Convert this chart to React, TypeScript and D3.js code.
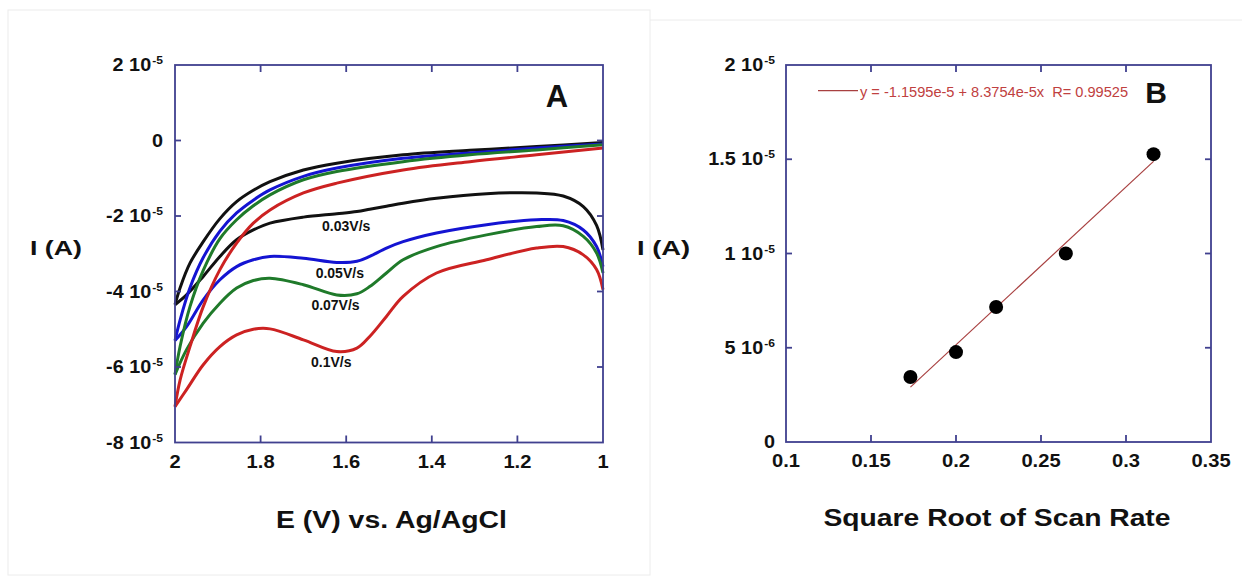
import React from 'react';
import * as d3 from 'd3';

// ---- panel A: cyclic voltammograms, current in units of 1e-5 A ----
const scanRates = ['0.03V/s', '0.05V/s', '0.07V/s', '0.1V/s'];
const curveColors = ['#111111', '#1414d2', '#1f7a2a', '#cc2222'];

// forward branch (1 V -> 2 V)
const upperE = [1.0, 1.155, 1.311, 1.467, 1.622, 1.7, 1.778, 1.817, 1.856, 1.895, 1.934, 1.965, 1.988, 2.0];
const upperBlack = [-0.05, -0.16, -0.26, -0.38, -0.6, -0.78, -1.09, -1.32, -1.62, -2.07, -2.68, -3.25, -3.9, -4.35];
const upperBlue = [-0.09, -0.2, -0.33, -0.47, -0.73, -0.95, -1.31, -1.58, -1.92, -2.4, -3.1, -3.9, -4.75, -5.3];
const upperGreen = [-0.11, -0.25, -0.38, -0.56, -0.82, -1.04, -1.44, -1.73, -2.1, -2.6, -3.44, -4.4, -5.45, -6.2];
const upperRed = [-0.2, -0.38, -0.56, -0.78, -1.13, -1.39, -1.84, -2.19, -2.72, -3.42, -4.4, -5.46, -6.34, -7.05];

// reverse branch (2 V -> 1 V)
const lowerE = [2.0, 1.973, 1.934, 1.895, 1.856, 1.817, 1.778, 1.7, 1.622, 1.575, 1.545, 1.506, 1.467, 1.389, 1.272, 1.155, 1.093, 1.046, 1.015, 1.0];
const lowerBlack = [-4.35, -4.09, -3.6, -3.07, -2.63, -2.37, -2.19, -2.03, -1.94, -1.88, -1.82, -1.74, -1.66, -1.53, -1.41, -1.39, -1.47, -1.75, -2.25, -2.9];
const lowerBlue = [-5.3, -4.93, -4.22, -3.69, -3.34, -3.16, -3.07, -3.12, -3.23, -3.2, -3.07, -2.85, -2.68, -2.45, -2.23, -2.1, -2.12, -2.37, -2.81, -3.34];
const lowerGreen = [-6.2, -5.54, -4.84, -4.31, -3.91, -3.71, -3.65, -3.82, -4.09, -4.06, -3.87, -3.51, -3.16, -2.81, -2.5, -2.28, -2.26, -2.54, -2.98, -3.51];
const lowerRed = [-7.05, -6.6, -5.94, -5.46, -5.15, -5.0, -4.99, -5.28, -5.59, -5.5, -5.19, -4.66, -4.13, -3.51, -3.16, -2.85, -2.81, -3.03, -3.42, -3.95];

const uppers = [upperBlack, upperBlue, upperGreen, upperRed];
const lowers = [lowerBlack, lowerBlue, lowerGreen, lowerRed];

// where each scan-rate label sits (E, I)
const labelE = [1.6, 1.615, 1.625, 1.635];
const labelI = [-2.4, -3.65, -4.5, -6.0];

const aXTicks = [2, 1.8, 1.6, 1.4, 1.2, 1];
const aYTicks = [2, 0, -2, -4, -6, -8];
const aYTickText = [['2 10', '-5'], ['0', ''], ['-2 10', '-5'], ['-4 10', '-5'], ['-6 10', '-5'], ['-8 10', '-5']];

// ---- panel B: peak current vs sqrt(scan rate), current in units of 1e-6 A ----
const sqrtRate = [0.1732, 0.2, 0.2236, 0.2646, 0.3162];
const peakCurrent = [3.45, 4.77, 7.16, 10.0, 15.27];
const fitIntercept = -11.595;
const fitSlope = 83.754;
const fitText = 'y = -1.1595e-5 + 8.3754e-5x  R= 0.99525';

const bXTicks = [0.1, 0.15, 0.2, 0.25, 0.3, 0.35];
const bYTicks = [0, 5, 10, 15, 20];
const bYTickText = [['0', ''], ['5 10', '-6'], ['1 10', '-5'], ['1.5 10', '-5'], ['2 10', '-5']];

const FONT = '"Liberation Sans", Arial, Helvetica, sans-serif';
const FRAME = '#40408f';

function SText({ x, y, sx = 1.12, size, anchor = 'middle', weight = 'bold', fill = '#111', children }: any) {
  return (
    <text
      transform={`translate(${x},${y}) scale(${sx},1)`}
      textAnchor={anchor}
      fontFamily={FONT}
      fontWeight={weight}
      fontSize={size}
      fill={fill}
    >
      {children}
    </text>
  );
}

function TickLabel({ x, y, parts }: any) {
  return (
    <SText x={x} y={y} size={18} anchor="end" sx={1.1}>
      <tspan>{parts[0]}</tspan>
      {parts[1] ? (
        <tspan dx={1} dy={-7} fontSize={11}>
          {parts[1]}
        </tspan>
      ) : null}
    </SText>
  );
}

function Frame({ x, y, xTicks, yTicks }: any) {
  const [x0, x1] = x.range();
  const [y0, y1] = y.range();
  const L = Math.min(x0, x1), R = Math.max(x0, x1);
  const T = Math.min(y0, y1), B = Math.max(y0, y1);
  const tl = 7;
  return (
    <g stroke={FRAME} strokeWidth={1.8} fill="none">
      <rect x={L} y={T} width={R - L} height={B - T} />
      {xTicks.slice(1, -1).map((t: number) => (
        <g key={'x' + t}>
          <line x1={x(t)} x2={x(t)} y1={B} y2={B - tl} />
          <line x1={x(t)} x2={x(t)} y1={T} y2={T + tl} />
        </g>
      ))}
      {yTicks.slice(1, -1).map((t: number) => (
        <g key={'y' + t}>
          <line x1={L} x2={L + 6} y1={y(t)} y2={y(t)} />
          <line x1={R} x2={R - 6} y1={y(t)} y2={y(t)} />
        </g>
      ))}
    </g>
  );
}

export default function App() {
  // panel A scales
  const ax = d3.scaleLinear().domain([2, 1]).range([175, 603]);
  const ay = d3.scaleLinear().domain([-8, 2]).range([442.5, 65]);
  const line = d3
    .line<[number, number]>()
    .x((d) => ax(d[0]))
    .y((d) => ay(d[1]))
    .curve(d3.curveCatmullRom.alpha(0.5));

  // panel B scales
  const bx = d3.scaleLinear().domain([0.1, 0.35]).range([786, 1211]);
  const by = d3.scaleLinear().domain([0, 20]).range([442, 65]);
  const fitX = [sqrtRate[0], sqrtRate[sqrtRate.length - 1]];

  return (
    <svg width={1242} height={577} style={{ position: 'absolute', left: 0, top: 0, background: '#fff' }}>
      {/* faint page edges from the source figure */}
      <rect x={8} y={10} width={642} height={565} fill="none" stroke="#ececec" strokeWidth={1} />
      <line x1={650} x2={1242} y1={20} y2={20} stroke="#ececec" strokeWidth={1} />

      {/* ---------- Panel A ---------- */}
      {uppers.map((u, i) => (
        <g key={i} fill="none" stroke={curveColors[i]} strokeWidth={3} strokeLinejoin="round">
          <path d={line(upperE.map((e, k) => [e, u[k]]) as any) || ''} />
          <path d={line(lowerE.map((e, k) => [e, lowers[i][k]]) as any) || ''} />
        </g>
      ))}
      <Frame x={ax} y={ay} xTicks={aXTicks} yTicks={aYTicks} />
      {scanRates.map((s, i) => (
        <SText key={s} x={ax(labelE[i])} y={ay(labelI[i])} size={14} sx={1.0}>
          {s}
        </SText>
      ))}
      {aXTicks.map((t) => (
        <SText key={t} x={ax(t)} y={468} size={18} sx={1.12}>
          {String(t)}
        </SText>
      ))}
      {aYTicks.map((t, i) => (
        <TickLabel key={t} x={163} y={ay(t) + 6} parts={aYTickText[i]} />
      ))}
      <text x={557} y={107} textAnchor="middle" fontFamily={FONT} fontWeight="bold" fontSize={31} fill="#111">
        A
      </text>
      <text x={30} y={255} fontFamily={FONT} fontWeight="bold" fontSize={20} textLength={52} lengthAdjust="spacingAndGlyphs" fill="#111">
        I (A)
      </text>
      <text x={276} y={528} fontFamily={FONT} fontWeight="bold" fontSize={23} textLength={231} lengthAdjust="spacingAndGlyphs" fill="#111">
        E (V) vs. Ag/AgCl
      </text>

      {/* ---------- Panel B ---------- */}
      <line
        x1={bx(fitX[0])}
        x2={bx(fitX[1])}
        y1={by(fitIntercept + fitSlope * fitX[0])}
        y2={by(fitIntercept + fitSlope * fitX[1])}
        stroke="#a84040"
        strokeWidth={1.2}
      />
      {sqrtRate.map((v, i) => (
        <circle key={i} cx={bx(v)} cy={by(peakCurrent[i])} r={7} fill="#000" />
      ))}
      <Frame x={bx} y={by} xTicks={bXTicks} yTicks={bYTicks} />
      <line x1={818} x2={858} y1={90.7} y2={90.7} stroke="#a84040" strokeWidth={1.2} />
      <text
        x={860}
        y={96.5}
        fontFamily={FONT}
        fontSize={14}
        fill="#c04040"
        textLength={268}
        lengthAdjust="spacingAndGlyphs"
        style={{ whiteSpace: 'pre' }}
      >
        {fitText}
      </text>
      <text x={1156} y={103} textAnchor="middle" fontFamily={FONT} fontWeight="bold" fontSize={30} fill="#111">
        B
      </text>
      {bXTicks.map((t) => (
        <SText key={t} x={bx(t)} y={467} size={18} sx={1.12}>
          {String(t)}
        </SText>
      ))}
      {bYTicks.map((t, i) => (
        <TickLabel key={t} x={775} y={by(t) + 6} parts={bYTickText[i]} />
      ))}
      <text x={637} y={255} fontFamily={FONT} fontWeight="bold" fontSize={20} textLength={53} lengthAdjust="spacingAndGlyphs" fill="#111">
        I (A)
      </text>
      <text x={823.5} y={526} fontFamily={FONT} fontWeight="bold" fontSize={24} textLength={347} lengthAdjust="spacingAndGlyphs" fill="#111">
        Square Root of Scan Rate
      </text>
    </svg>
  );
}
